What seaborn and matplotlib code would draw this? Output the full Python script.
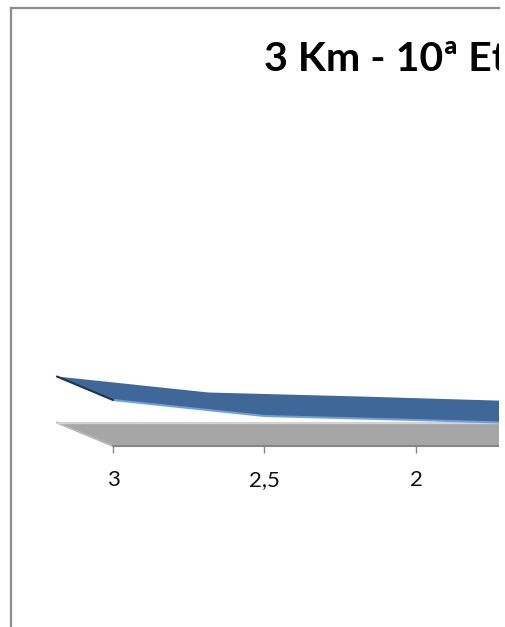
import numpy as np
import pandas as pd
import seaborn as sns
import matplotlib.pyplot as plt

km = [3, 2.5, 2, 1.5]
altitude = [46, 30, 26, 21.5]
tick_km = [3, 2.5, 2]
tick_labels = ['3', '2,5', '2']
title = '3 Km - 10ª Etapa'

# fake 3d depth of the excel chart
depth_x = 0.185
depth_y = 23.5

sns.set_theme(style='white')
plt.rcParams['font.family'] = ['Lato', 'DejaVu Sans']

data = pd.DataFrame({'km': km, 'altitude': altitude})
data['back_km'] = data['km'] + depth_x
data['back_altitude'] = data['altitude'] + depth_y

W, H = 505, 627
fig = plt.figure(figsize=(W / 100, H / 100), dpi=100)
ax = fig.add_axes([11 / W, 0, 488 / W, 619 / H])
ax.set_xlim(3.3366, 1.726)
ax.set_ylim(-181, 438)

# floor
ax.fill([3, 1.5, 1.5 + depth_x, 3 + depth_x], [0, 0, depth_y, depth_y],
        color='#a6a6a6', lw=0, zorder=1)
ax.plot([3, 3 + depth_x], [0, depth_y], color='#b5b5b5', lw=1.5, zorder=2)
ax.plot([3 + depth_x, 1.5 + depth_x], [depth_y, depth_y], color='#d4d4d4', lw=1, zorder=2)
ax.plot([3, 1.5], [0, 0], color='#868686', lw=1.5, zorder=2)

# top surface of the area
ax.fill(np.concatenate([data['km'], data['back_km'][::-1]]),
        np.concatenate([data['altitude'], data['back_altitude'][::-1]]),
        color='#3f6797', lw=0, zorder=3)
sns.lineplot(data=data, x='km', y='altitude', color='#6f9fdc', lw=1.5,
             sort=False, ax=ax, zorder=4)
ax.plot([3, 3 + depth_x], [altitude[0], altitude[0] + depth_y], color='#1d3354', lw=1.5, zorder=5)

ax.set_xticks(tick_km, tick_labels)
ax.set_yticks([])
ax.set_xlabel('')
ax.set_ylabel('')
ax.spines['bottom'].set_position(('data', 0))
ax.spines['bottom'].set_color('none')
ax.spines['right'].set_visible(False)
ax.tick_params(axis='x', bottom=True, length=5, width=1, color='#868686',
               pad=12, labelsize=16, labelcolor='#111111')
for s in ['left', 'top']:
    ax.spines[s].set_color('#8c8c8c')
    ax.spines[s].set_linewidth(1.6)

t = ax.text(264 / W, 1 - 60 / H, title, transform=fig.transFigure, fontsize=29.5,
            fontweight='bold', color='black', va='center', ha='left', clip_on=True)
t.set_clip_path(ax.patch)

fig.savefig('out.png', dpi=100)
